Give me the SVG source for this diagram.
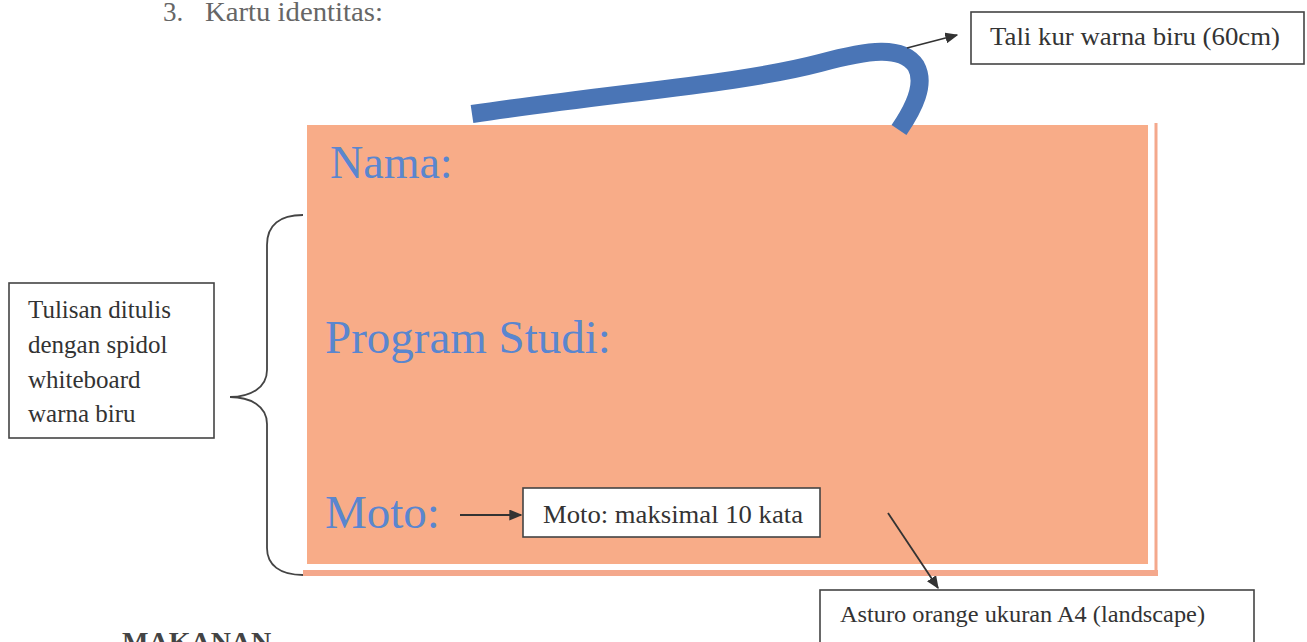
<svg xmlns="http://www.w3.org/2000/svg" width="1307" height="642" viewBox="0 0 1307 642">
<style>
.lbl{font-family:"Liberation Serif","Times New Roman",serif;fill:#333;}
.big{font-family:"Liberation Serif","Times New Roman",serif;fill:#5a86cf;}
.box{fill:#fff;stroke:#444;stroke-width:1.6;}
.conn{stroke:#333;stroke-width:1.8;fill:none;}
</style>
<defs>
<marker id="ahb" viewBox="0 0 10 10" refX="9" refY="5" markerWidth="13" markerHeight="11" markerUnits="userSpaceOnUse" orient="auto" preserveAspectRatio="none">
<path d="M0,0 L10,5 L0,10 z" fill="#333"/>
</marker>
</defs>
<rect width="1307" height="642" fill="#fff"/>
<g id="heading" style="font-family:'Liberation Serif','Times New Roman',serif;fill:#666" font-size="27">
<text x="163" y="21">3.</text>
<text x="205" y="21" textLength="178" lengthAdjust="spacingAndGlyphs">Kartu identitas:</text>
</g>
<g id="card">
<path d="M1156,123 V573" fill="none" stroke="#f4a88c" stroke-width="3"/>
<path d="M303,573 H1158" fill="none" stroke="#f4a88c" stroke-width="6"/>
<rect x="307" y="125" width="841" height="439" fill="#f8ac88"/>
<text class="big" x="330" y="178" font-size="46">Nama:</text>
<text class="big" x="325" y="353" font-size="47">Program Studi:</text>
<text class="big" x="325" y="528" font-size="47">Moto:</text>
</g>
<g id="rope">
<path d="M472,114 C620,92 740,84 820,63 C868,50 902,45 916,66 C926,84 914,108 899,130" fill="none" stroke="#4a75b6" stroke-width="18"/>
</g>
<g id="brace">
<path d="M303,215 C280,215 267,225 267,245 V370 C267,388 250,397 230,397 C250,397 267,406 267,424 V548 C267,565 280,575 303,575" fill="none" stroke="#444" stroke-width="1.8"/>
</g>
<g id="node-tali">
<rect class="box" x="971" y="12" width="333" height="52"/>
<text class="lbl" x="990" y="45" font-size="26" textLength="290" lengthAdjust="spacingAndGlyphs">Tali kur warna biru (60cm)</text>
</g>
<g id="node-tulisan">
<rect class="box" x="9" y="283" width="205" height="155"/>
<text class="lbl" x="28" y="318" font-size="25">Tulisan ditulis</text>
<text class="lbl" x="28" y="353" font-size="25">dengan spidol</text>
<text class="lbl" x="28" y="388" font-size="25">whiteboard</text>
<text class="lbl" x="28" y="422" font-size="25">warna biru</text>
</g>
<g id="node-moto">
<rect class="box" x="523" y="488" width="297" height="49"/>
<text class="lbl" x="543" y="523" font-size="25" textLength="260" lengthAdjust="spacingAndGlyphs">Moto: maksimal 10 kata</text>
</g>
<g id="node-asturo">
<rect class="box" x="820" y="590" width="434" height="60"/>
<text class="lbl" x="840" y="622" font-size="24" textLength="365" lengthAdjust="spacingAndGlyphs">Asturo orange ukuran A4 (landscape)</text>
</g>
<text id="makanan" x="122" y="651" font-size="28" font-weight="bold" style="font-family:'Liberation Serif','Times New Roman',serif;fill:#444">MAKANAN</text>
<g id="connectors">
<line class="conn" x1="907" y1="48" x2="957" y2="35" marker-end="url(#ahb)"/>
<line class="conn" x1="460" y1="515" x2="521" y2="515" marker-end="url(#ahb)"/>
<line class="conn" x1="888" y1="513" x2="938" y2="588" marker-end="url(#ahb)"/>
</g>
</svg>
